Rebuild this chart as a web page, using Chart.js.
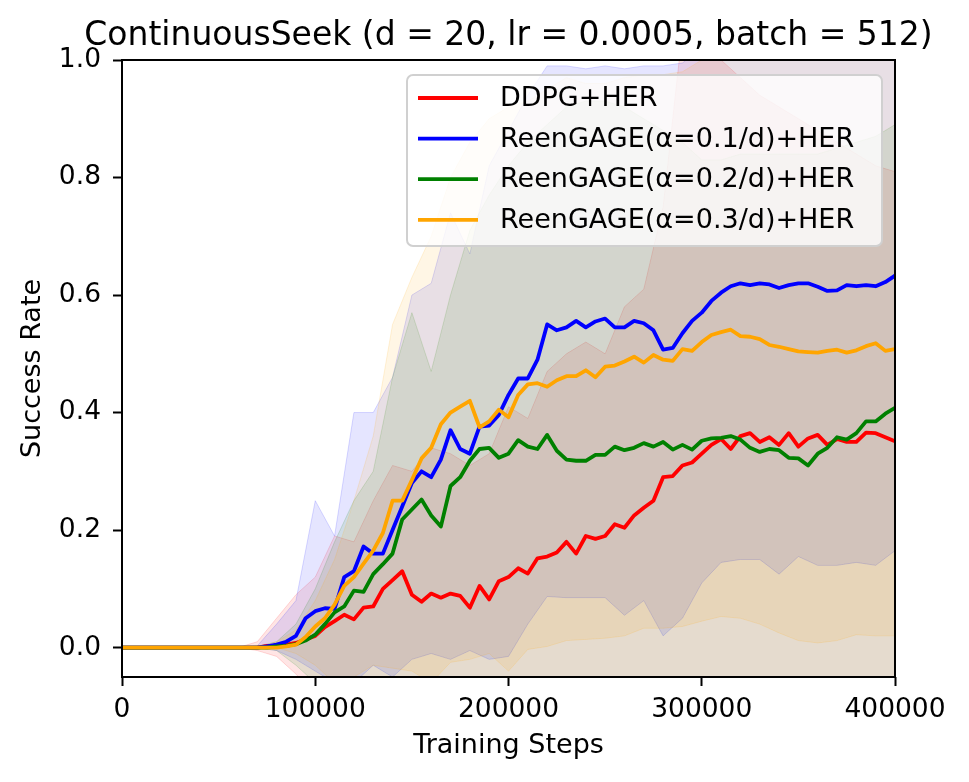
<!DOCTYPE html>
<html>
<head>
<meta charset="utf-8">
<script src="https://cdn.jsdelivr.net/npm/chart.js@4.4.0/dist/chart.umd.min.js"></script>
<style>
  html, body { margin: 0; padding: 0; background: #fff; }
  #wrap { width: 969px; height: 782px; }
</style>
</head>
<body>
<div id="wrap"><canvas id="chart"></canvas></div>
<script>
const titleText = 'ContinuousSeek (d = 20, lr = 0.0005, batch = 512)'
const seriesLabels = ['DDPG+HER', 'ReenGAGE(α=0.1/d)+HER', 'ReenGAGE(α=0.2/d)+HER', 'ReenGAGE(α=0.3/d)+HER']
const seriesColors = ['255,0,0', '0,0,255', '0,128,0', '255,165,0']
const xTicks = [0, 100000, 200000, 300000, 400000]
const yTicks = [0.0, 0.2, 0.4, 0.6, 0.8, 1.0]

// mean curves, every 5000 steps
const steps = [
  0, 5000, 10000, 15000, 20000, 25000, 30000, 35000, 40000, 45000,
  50000, 55000, 60000, 65000, 70000, 75000, 80000, 85000, 90000, 95000,
  100000, 105000, 110000, 115000, 120000, 125000, 130000, 135000, 140000, 145000,
  150000, 155000, 160000, 165000, 170000, 175000, 180000, 185000, 190000, 195000,
  200000, 205000, 210000, 215000, 220000, 225000, 230000, 235000, 240000, 245000,
  250000, 255000, 260000, 265000, 270000, 275000, 280000, 285000, 290000, 295000,
  300000, 305000, 310000, 315000, 320000, 325000, 330000, 335000, 340000, 345000,
  350000, 355000, 360000, 365000, 370000, 375000, 380000, 385000, 390000, 395000,
  400000
]
const ddpgMean = [
  0, 0, 0, 0, 0, 0, 0, 0, 0, 0,
  0, 0, 0, 0, 0, 0.003, 0.003, 0.005, 0.008, 0.014,
  0.02, 0.035, 0.045, 0.056, 0.048, 0.068, 0.07, 0.1, 0.115, 0.13,
  0.09, 0.078, 0.092, 0.085, 0.092, 0.088, 0.068, 0.105, 0.082, 0.113,
  0.12, 0.135, 0.126, 0.152, 0.155, 0.162, 0.18, 0.16, 0.19, 0.185,
  0.19, 0.21, 0.204, 0.225, 0.238, 0.25, 0.29, 0.292, 0.31, 0.315,
  0.33, 0.345, 0.355, 0.338, 0.36, 0.365, 0.35, 0.358, 0.345, 0.365,
  0.342, 0.356, 0.362, 0.345, 0.355, 0.35, 0.35, 0.366, 0.365, 0.358,
  0.351
]
const reen01Mean = [
  0, 0, 0, 0, 0, 0, 0, 0, 0, 0,
  0, 0, 0, 0, 0, 0.002, 0.005, 0.01, 0.02, 0.05,
  0.062, 0.067, 0.066, 0.12, 0.13, 0.172, 0.16, 0.16, 0.2, 0.24,
  0.28, 0.3, 0.29, 0.32, 0.37, 0.338, 0.33, 0.376, 0.378, 0.396,
  0.43, 0.458, 0.458, 0.49, 0.55, 0.54, 0.545, 0.556, 0.545, 0.555,
  0.56, 0.545, 0.545, 0.556, 0.552, 0.54, 0.507, 0.51, 0.535, 0.556,
  0.57, 0.59, 0.604, 0.615, 0.62, 0.617, 0.62, 0.618, 0.612, 0.617,
  0.62, 0.62, 0.614, 0.607, 0.608, 0.617, 0.615, 0.617, 0.615, 0.622,
  0.633
]
const reen02Mean = [
  0, 0, 0, 0, 0, 0, 0, 0, 0, 0,
  0, 0, 0, 0, 0, 0, 0.002, 0.003, 0.006, 0.012,
  0.022, 0.04, 0.06, 0.07, 0.097, 0.095, 0.125, 0.142, 0.16, 0.218,
  0.235, 0.252, 0.225, 0.206, 0.275, 0.29, 0.318, 0.338, 0.34, 0.323,
  0.33, 0.353, 0.342, 0.338, 0.362, 0.335, 0.32, 0.318, 0.318, 0.328,
  0.328, 0.342, 0.336, 0.34, 0.348, 0.342, 0.35, 0.337, 0.345, 0.337,
  0.352, 0.356, 0.357, 0.36, 0.354, 0.34, 0.333, 0.338, 0.336, 0.323,
  0.322, 0.31, 0.33, 0.34, 0.358, 0.354, 0.365, 0.385, 0.385, 0.398,
  0.408
]
const reen03Mean = [
  0, 0, 0, 0, 0, 0, 0, 0, 0, 0,
  0, 0, 0, 0, 0, 0, 0, 0.002, 0.005, 0.018,
  0.036, 0.05, 0.073, 0.105, 0.12, 0.143, 0.165, 0.195, 0.25, 0.25,
  0.285, 0.322, 0.34, 0.38, 0.4, 0.41, 0.42, 0.375, 0.385, 0.405,
  0.392, 0.43, 0.448, 0.45, 0.444, 0.455, 0.462, 0.462, 0.472, 0.46,
  0.478, 0.48, 0.487, 0.495, 0.485, 0.498, 0.49, 0.488, 0.508, 0.505,
  0.52, 0.532, 0.537, 0.541, 0.53, 0.529, 0.525, 0.515, 0.512, 0.508,
  0.504, 0.503, 0.502, 0.505, 0.507, 0.502, 0.506, 0.513, 0.518, 0.505,
  0.508
]

// shaded bands (upper / lower), every 10000 steps
const bandSteps = [
  0, 10000, 20000, 30000, 40000, 50000, 60000, 70000, 80000, 90000,
  100000, 110000, 120000, 130000, 140000, 150000, 160000, 170000, 180000, 190000,
  200000, 210000, 220000, 230000, 240000, 250000, 260000, 270000, 280000, 290000,
  300000, 310000, 320000, 330000, 340000, 350000, 360000, 370000, 380000, 390000,
  400000
]
const ddpgUpper = [
  0, 0, 0, 0, 0, 0, 0, 0.01, 0.05, 0.09,
  0.12, 0.19, 0.18, 0.25, 0.31, 0.30, 0.34, 0.33, 0.31, 0.33,
  0.41, 0.39, 0.47, 0.50, 0.52, 0.50, 0.58, 0.61, 0.75, 1.05,
  1.02, 1.00, 0.97, 0.94, 0.92, 0.90, 0.88, 0.86, 0.84, 0.82,
  0.81
]
const ddpgLower = [
  0, 0, 0, 0, 0, 0, 0, -0.005, -0.015, -0.045,
  -0.08, -0.1, -0.1, -0.1, -0.1, -0.1, -0.1, -0.1, -0.1, -0.1,
  -0.1, -0.1, -0.1, -0.1, -0.1, -0.1, -0.1, -0.1, -0.1, -0.1,
  -0.1, -0.1, -0.1, -0.1, -0.1, -0.1, -0.1, -0.1, -0.1, -0.1,
  -0.1
]
const reen01Upper = [
  0, 0, 0, 0, 0, 0, 0, 0.003, 0.04, 0.08,
  0.25, 0.19, 0.40, 0.40, 0.46, 0.60, 0.62, 0.74, 0.67, 0.82,
  0.88, 0.94, 0.99, 0.99, 0.985, 0.99, 0.985, 0.99, 0.99, 0.995,
  1.02, 1.05, 1.06, 1.06, 1.07, 1.07, 1.07, 1.08, 1.08, 1.08,
  1.08
]
const reen01Lower = [
  0, 0, 0, 0, 0, 0, 0, 0, -0.005, -0.02,
  -0.04, -0.06, -0.06, -0.03, -0.05, -0.02, -0.01, -0.02, -0.005, -0.02,
  -0.015, 0.04, 0.087, 0.085, 0.085, 0.085, 0.055, 0.08, 0.02, 0.05,
  0.11, 0.145, 0.15, 0.15, 0.125, 0.155, 0.14, 0.14, 0.145, 0.14,
  0.165
]
const reen02Upper = [
  0, 0, 0, 0, 0, 0, 0, 0.002, 0.01, 0.04,
  0.10, 0.18, 0.25, 0.30, 0.46, 0.57, 0.47, 0.60, 0.71, 0.77,
  0.82, 0.86, 0.89, 0.92, 0.93, 0.93, 0.92, 0.90, 0.88, 0.86,
  0.83, 0.83, 0.84, 0.84, 0.84, 0.84, 0.84, 0.85, 0.86, 0.87,
  0.89
]
const reen02Lower = [
  0, 0, 0, 0, 0, 0, 0, 0, -0.005, -0.03,
  -0.06, -0.1, -0.1, -0.1, -0.1, -0.1, -0.1, -0.1, -0.1, -0.1,
  -0.1, -0.1, -0.1, -0.1, -0.1, -0.1, -0.1, -0.1, -0.1, -0.1,
  -0.1, -0.1, -0.1, -0.1, -0.1, -0.1, -0.1, -0.1, -0.1, -0.1,
  -0.1
]
const reen03Upper = [
  0, 0, 0, 0, 0, 0, 0, 0, 0.01, 0.03,
  0.08, 0.15, 0.25, 0.36, 0.55, 0.63, 0.70, 0.80, 0.86, 0.90,
  0.92, 0.93, 0.95, 0.97, 0.96, 0.96, 0.97, 0.975, 0.975, 0.98,
  1.0, 1.04, 1.05, 1.05, 1.05, 1.05, 1.05, 1.05, 1.05, 1.05,
  1.05
]
const reen03Lower = [
  0, 0, 0, 0, 0, 0, 0, 0, 0, -0.01,
  -0.03, -0.06, -0.05, -0.03, -0.035, -0.04, -0.06, -0.025, -0.02, -0.01,
  -0.04, -0.003, 0.002, 0.012, 0.014, 0.016, 0.02, 0.033, 0.033, 0.036,
  0.045, 0.053, 0.05, 0.04, 0.025, 0.012, 0.008, 0.012, 0.022, 0.02,
  0.02
]

const means = [ddpgMean, reen01Mean, reen02Mean, reen03Mean]
const uppers = [ddpgUpper, reen01Upper, reen02Upper, reen03Upper]
const lowers = [ddpgLower, reen01Lower, reen02Lower, reen03Lower]

const font = "'DejaVu Sans'"

function points (xs, ys) {
  return xs.map((x, i) => ({ x: x, y: ys[i] }))
}

function buildDatasets () {
  const sets = []
  // bands first (upper fills down to the lower line right after it)
  seriesLabels.forEach((label, k) => {
    const c = seriesColors[k]
    sets.push({
      data: points(bandSteps, uppers[k]),
      borderColor: 'rgba(' + c + ',0.15)',
      backgroundColor: 'rgba(' + c + ',0.1)',
      borderWidth: 1,
      pointRadius: 0,
      fill: '+1',
      order: 14 - k
    })
    sets.push({
      data: points(bandSteps, lowers[k]),
      borderColor: 'rgba(' + c + ',0.15)',
      borderWidth: 1,
      pointRadius: 0,
      fill: false,
      order: 14 - k
    })
  })
  seriesLabels.forEach((label, k) => {
    sets.push({
      label: label,
      data: points(steps, means[k]),
      borderColor: 'rgb(' + seriesColors[k] + ')',
      borderWidth: 3.8,
      borderJoinStyle: 'round',
      pointRadius: 0,
      fill: false,
      order: 4 - k
    })
  })
  return sets
}

// frame, title and the boxed legend inside the axes
const decorations = {
  id: 'decorations',
  afterDatasetsDraw (chart) {
    const { ctx, chartArea: a } = chart
    ctx.save()
    ctx.strokeStyle = '#000'
    ctx.lineWidth = 2
    ctx.strokeRect(a.left, a.top, a.right - a.left, a.bottom - a.top)

    ctx.fillStyle = '#000'
    ctx.font = '33px ' + font
    ctx.textAlign = 'center'
    ctx.textBaseline = 'alphabetic'
    ctx.fillText(titleText, (a.left + a.right) / 2, 45)

    const w = 475
    const h = 171
    const x = a.right - 13 - w
    const y = a.top + 15
    ctx.beginPath()
    ctx.roundRect(x, y, w, h, 6)
    ctx.fillStyle = 'rgba(255,255,255,0.8)'
    ctx.fill()
    ctx.strokeStyle = '#d0d0d0'
    ctx.lineWidth = 2
    ctx.stroke()

    ctx.font = '27px ' + font
    ctx.textAlign = 'left'
    ctx.textBaseline = 'middle'
    seriesLabels.forEach((label, i) => {
      const ly = y + 23 + i * 40.6
      ctx.strokeStyle = 'rgb(' + seriesColors[i] + ')'
      ctx.lineWidth = 3.8
      ctx.beginPath()
      ctx.moveTo(x + 11, ly)
      ctx.lineTo(x + 71, ly)
      ctx.stroke()
      ctx.fillStyle = '#000'
      ctx.fillText(label, x + 93, ly + 1)
    })
    ctx.restore()
  }
}

const tickFont = { family: font, size: 26.5 }

new Chart(document.getElementById('chart').getContext('2d'), {
  type: 'line',
  data: { datasets: buildDatasets() },
  options: {
    responsive: true,
    maintainAspectRatio: false,
    animation: false,
    layout: { padding: { left: 0, right: 74, top: 60, bottom: 0 } },
    plugins: {
      legend: { display: false },
      tooltip: { enabled: false },
      title: { display: false }
    },
    elements: { line: { tension: 0 } },
    scales: {
      x: {
        type: 'linear',
        min: 0,
        max: 400000,
        afterFit: (s) => { s.height = 105 },
        afterBuildTicks: (s) => { s.ticks = xTicks.map(v => ({ value: v })) },
        ticks: { color: '#000', font: tickFont, padding: 8, maxRotation: 0, autoSkip: false, callback: v => String(v) },
        grid: { drawOnChartArea: false, drawTicks: true, tickLength: 9, tickWidth: 2, tickColor: '#000' },
        border: { display: false },
        title: { display: true, text: 'Training Steps', color: '#000', font: { family: font, size: 27 }, padding: { top: 0, bottom: 20 } }
      },
      y: {
        min: -0.05,
        max: 1.0,
        afterFit: (s) => { s.width = 122 },
        afterBuildTicks: (s) => { s.ticks = yTicks.map(v => ({ value: v })) },
        ticks: { color: '#000', font: tickFont, padding: 12, callback: v => v.toFixed(1) },
        grid: { drawOnChartArea: false, drawTicks: true, tickLength: 9, tickWidth: 2, tickColor: '#000' },
        border: { display: false },
        title: { display: true, text: 'Success Rate', color: '#000', font: { family: font, size: 27 }, padding: { top: 17, bottom: 0 } }
      }
    }
  },
  plugins: [decorations]
})
</script>
</body>
</html>
